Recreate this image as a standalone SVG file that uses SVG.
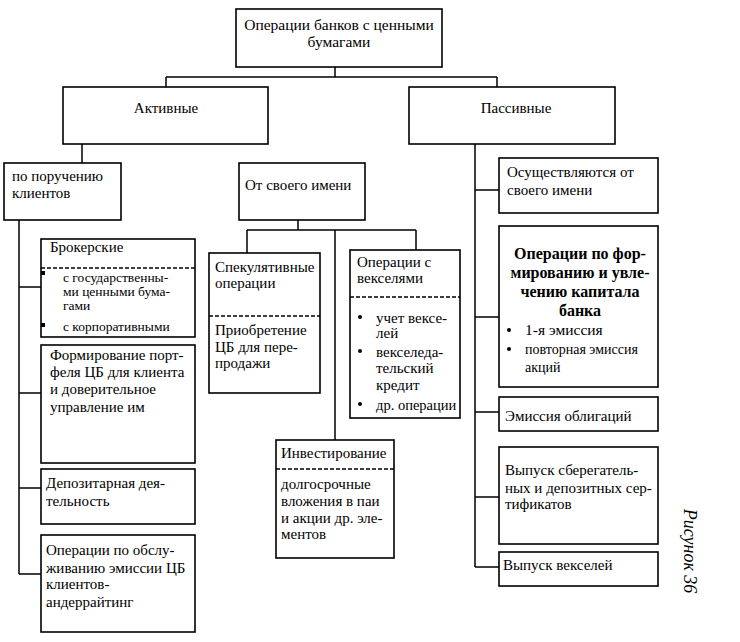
<svg xmlns="http://www.w3.org/2000/svg" width="740" height="642" viewBox="0 0 740 642" font-family="'Liberation Serif', 'Times New Roman', serif" font-size="15">
<style>
.b{fill:#fff;stroke:#000;stroke-width:1.6}
.d{stroke:#000;stroke-width:1.5;stroke-dasharray:4,2;fill:none}
.c{stroke:#000;stroke-width:1.5;fill:none}
.m{text-anchor:middle}
.s{font-size:14px}
.t{font-size:13.5px}
.bd{font-weight:bold;font-size:16px}
</style>
<rect width="740" height="642" fill="#fff"/>
<g id="connectors">
<path class="c" d="M335 67V77M166 77H497M166 77V87M497 77V87"/>
<path class="c" d="M82 144V163M19 220V574M19 287H41M19 393H41M19 488H41M19 574H41"/>
<path class="c" d="M298 220V230M247 230H416M247 230V253M416 230V250M335 230V440"/>
<path class="c" d="M475 144V567M475 190H499M475 317H499M475 412H499M475 497H499M475 567H499"/>
</g>
<g id="root"><rect class="b" x="236" y="9" width="206" height="58"/>
<text class="m" x="339" y="30" font-size="15.5">Операции банков с ценными</text><text class="m" x="339" y="47" font-size="15.5">бумагами</text></g>
<g id="active"><rect class="b" x="63" y="87" width="205" height="57"/><text class="m" x="166" y="113">Активные</text></g>
<g id="passive"><rect class="b" x="409" y="87" width="206" height="57"/><text class="m" x="516" y="113">Пассивные</text></g>
<g id="client"><rect class="b" x="4" y="163" width="117" height="57"/>
<text x="12" y="181">по поручению</text><text x="12" y="198">клиентов</text></g>
<g id="own"><rect class="b" x="239" y="163" width="126" height="57"/><text x="245" y="190">От своего имени</text></g>
<g id="broker"><rect class="b" x="41" y="239" width="154" height="98"/>
<text x="50" y="252">Брокерские</text><line class="d" x1="41" y1="268" x2="195" y2="268"/>
<rect x="41" y="271" width="4" height="4"/><rect x="41" y="323" width="4" height="4"/>
<text class="t" x="63" y="282">с государственны-</text><text class="t" x="63" y="296">ми ценными бума-</text><text class="t" x="63" y="310">гами</text><text class="t" x="63" y="331">с корпоративными</text></g>
<g id="portfolio"><rect class="b" x="41" y="345" width="154" height="118"/>
<text x="50" y="360">Формирование порт-</text><text x="50" y="377">феля ЦБ для клиента</text><text x="50" y="394">и доверительное</text><text x="50" y="412">управление им</text></g>
<g id="depo"><rect class="b" x="41" y="469" width="154" height="55"/>
<text x="46" y="488">Депозитарная дея-</text><text x="46" y="506">тельность</text></g>
<g id="underwriting"><rect class="b" x="41" y="535" width="154" height="97"/>
<text x="46" y="555">Операции по обслу-</text><text x="46" y="573">живанию эмиссии ЦБ</text><text x="46" y="589">клиентов-</text><text x="46" y="607">андеррайтинг</text></g>
<g id="spec"><rect class="b" x="209" y="253" width="111" height="140"/>
<text x="215" y="272">Спекулятивные</text><text x="215" y="288">операции</text><line class="d" x1="209" y1="316" x2="320" y2="316"/>
<text x="215" y="335">Приобретение</text><text x="215" y="352">ЦБ для пере-</text><text x="215" y="368">продажи</text></g>
<g id="bills"><rect class="b" x="350" y="250" width="110" height="168"/>
<text x="357" y="267">Операции с</text><text x="357" y="283">векселями</text><line class="d" x1="350" y1="297" x2="460" y2="297"/>
<circle cx="360" cy="317" r="2"/><circle cx="360" cy="351" r="2"/><circle cx="360" cy="404" r="2"/>
<text x="376" y="323">учет вексе-</text><text x="376" y="338">лей</text><text x="376" y="357">векселеда-</text><text x="376" y="373">тельский</text><text x="376" y="390">кредит</text><text x="376" y="410" font-size="14.5">др. операции</text></g>
<g id="invest"><rect class="b" x="276" y="440" width="118" height="118"/>
<text x="281" y="458">Инвестирование</text><line class="d" x1="276" y1="469" x2="394" y2="469"/>
<text x="281" y="489">долгосрочные</text><text x="281" y="506">вложения в паи</text><text x="281" y="523">и акции др. эле-</text><text x="281" y="539">ментов</text></g>
<g id="ownname"><rect class="b" x="499" y="158" width="159" height="55"/>
<text x="507" y="177">Осуществляются от</text><text x="507" y="195">своего имени</text></g>
<g id="capital"><rect class="b" x="499" y="226" width="159" height="161"/>
<text class="m bd" x="580" y="259">Операции по фор-</text><text class="m bd" x="580" y="278">мированию и увле-</text><text class="m bd" x="580" y="297">чению капитала</text><text class="m bd" x="580" y="316">банка</text>
<circle cx="509" cy="330" r="2"/><circle cx="509" cy="349" r="2"/>
<text x="525" y="335" font-size="15.5">1-я эмиссия</text><text class="s" x="525" y="354">повторная эмиссия</text><text class="s" x="525" y="372">акций</text></g>
<g id="bonds"><rect class="b" x="499" y="397" width="159" height="34"/><text x="505" y="421">Эмиссия облигаций</text></g>
<g id="certs"><rect class="b" x="499" y="447" width="159" height="97"/>
<text x="505" y="475">Выпуск сберегатель-</text><text x="505" y="493">ных и депозитных сер-</text><text x="505" y="509">тификатов</text></g>
<g id="notes"><rect class="b" x="499" y="552" width="159" height="34"/><text x="503" y="570">Выпуск векселей</text></g>
<text transform="translate(684,551) rotate(90)" class="m" font-style="italic" font-size="18">Рисунок 36</text>
</svg>
